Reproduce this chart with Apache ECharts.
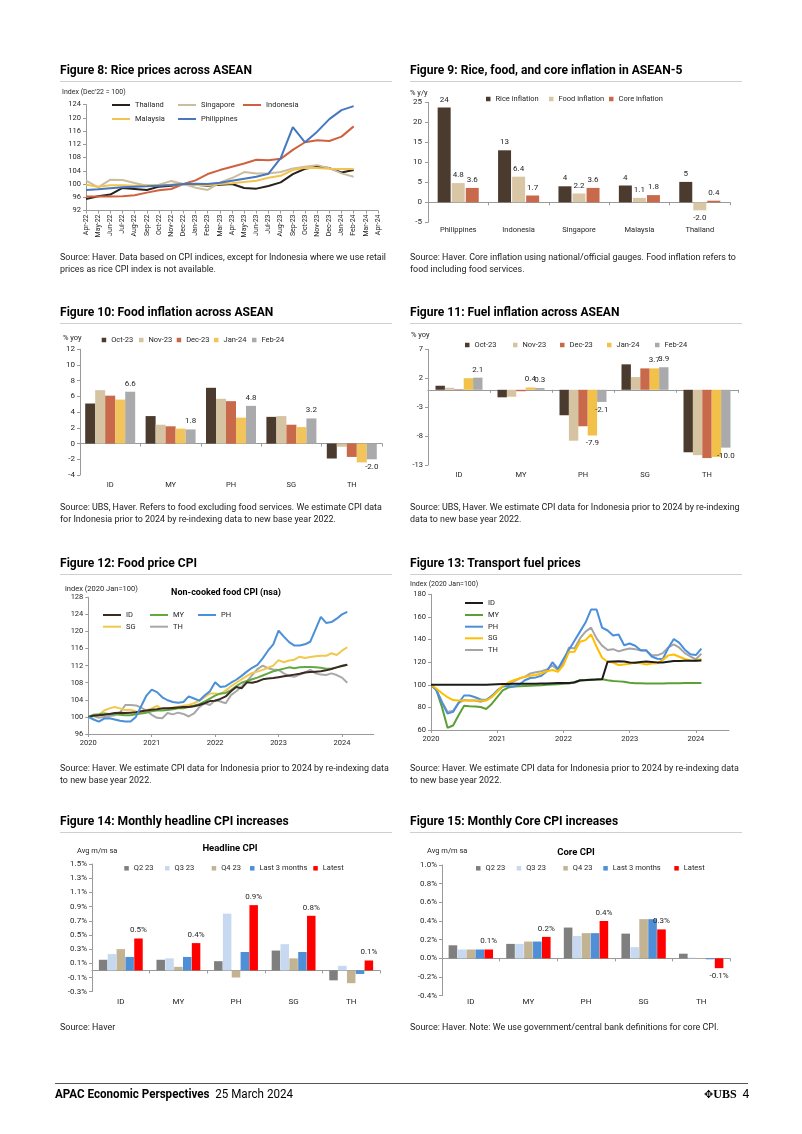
<!DOCTYPE html>
<html><head><meta charset="utf-8"><title>ASEAN inflation charts</title>
<script src="https://cdn.jsdelivr.net/npm/echarts@6.0.0/dist/echarts.min.js"></script>
<style>
html,body{margin:0;padding:0;background:#fff;}
#page{position:relative;width:802px;height:1134px;overflow:hidden;background:#fff;font-family:Roboto,"Liberation Sans",Arial,sans-serif;color:#111;}
#chart{position:absolute;left:0;top:0;width:802px;height:1134px;}
.t{position:absolute;white-space:nowrap;transform-origin:0 50%;}
.ttl{font-weight:700;font-size:12.5px;line-height:14px;color:#000;}
.src{font-size:8.8px;line-height:12.4px;color:#222;}
.rule{position:absolute;height:1px;background:#cfcfcf;}
.foot{font-size:12px;line-height:14px;color:#000;}
</style></head><body><div id="page">
<div id="chart"></div>

<div class="t ttl" id="refTitle" style="left:60px;top:63px">Figure 8: Rice prices across ASEAN</div>
<div class="t ttl" style="left:410px;top:63px">Figure 9: Rice, food, and core inflation in ASEAN-5</div>
<div class="rule" style="left:60px;top:81px;width:332px"></div>
<div class="rule" style="left:410px;top:81px;width:332px"></div>
<div class="t src" id="refSrc" style="left:60px;top:251px">Source: Haver. Data based on CPI indices, except for Indonesia where we use retail<br>prices as rice CPI index is not available.</div>
<div class="t src" style="left:410px;top:251px">Source: Haver. Core inflation using national/official gauges. Food inflation refers to<br>food including food services.</div>

<div class="t ttl" style="left:60px;top:305px">Figure 10: Food inflation across ASEAN</div>
<div class="t ttl" style="left:410px;top:305px">Figure 11: Fuel inflation across ASEAN</div>
<div class="rule" style="left:60px;top:323px;width:332px"></div>
<div class="rule" style="left:410px;top:323px;width:332px"></div>
<div class="t src" style="left:60px;top:501px">Source: UBS, Haver. Refers to food excluding food services. We estimate CPI data<br>for Indonesia prior to 2024 by re-indexing data to new base year 2022.</div>
<div class="t src" style="left:410px;top:501px">Source: UBS, Haver. We estimate CPI data for Indonesia prior to 2024 by re-indexing<br>data to new base year 2022.</div>

<div class="t ttl" style="left:60px;top:556px">Figure 12: Food price CPI</div>
<div class="t ttl" style="left:410px;top:556px">Figure 13: Transport fuel prices</div>
<div class="rule" style="left:60px;top:574px;width:332px"></div>
<div class="rule" style="left:410px;top:574px;width:332px"></div>
<div class="t src" style="left:60px;top:762px">Source: Haver. We estimate CPI data for Indonesia prior to 2024 by re-indexing data<br>to new base year 2022.</div>
<div class="t src" style="left:410px;top:762px">Source: Haver. We estimate CPI data for Indonesia prior to 2024 by re-indexing data<br>to new base year 2022.</div>

<div class="t ttl" style="left:60px;top:814px">Figure 14: Monthly headline CPI increases</div>
<div class="t ttl" style="left:410px;top:814px">Figure 15: Monthly Core CPI increases</div>
<div class="rule" style="left:60px;top:832px;width:332px"></div>
<div class="rule" style="left:410px;top:832px;width:332px"></div>
<div class="t src" style="left:60px;top:1021px">Source: Haver</div>
<div class="t src" style="left:410px;top:1021px">Source: Haver. Note: We use government/central bank definitions for core CPI.</div>

<div class="rule" style="left:55px;top:1083px;width:693px;background:#555"></div>
<div class="t foot" id="refFoot" style="left:55px;top:1087px"><b>APAC Economic Perspectives</b>&nbsp;&nbsp;25 March 2024</div>
<div class="t foot" style="left:704px;top:1087px"><span style="font-family:'DejaVu Sans';font-size:11px">✥</span><span style="font-family:'Liberation Serif';font-weight:700;font-size:12px">UBS</span>&nbsp;&nbsp;4</div>
</div>
<script>
// ---------- Figure 8: rice prices (Index Dec'22 = 100) ----------
const c8Months = ['Apr-22','May-22','Jun-22','Jul-22','Aug-22','Sep-22','Oct-22','Nov-22','Dec-22','Jan-23','Feb-23','Mar-23','Apr-23','May-23','Jun-23','Jul-23','Aug-23','Sep-23','Oct-23','Nov-23','Dec-23','Jan-24','Feb-24','Mar-24','Apr-24'];
const c8Thailand    = [95.5,96.3,96.8,98.8,98.5,98.2,99.2,99.5,100,99.8,99.5,99.8,100,98.8,98.6,99.4,100.5,103,104.6,105.2,104.8,103.5,104.2];
const c8Singapore   = [101,99,101.3,101.2,100.3,99.5,99.8,100.9,100,98.9,98.2,100.4,101.8,103.6,103.2,103.2,103.6,104.7,105.2,105.7,104.8,103.2,102.2];
const c8Indonesia   = [96.2,96.2,96.2,96.3,96.6,97.4,98.1,98.5,100,101.1,103,104.2,105.2,106.2,107.3,107.2,107.6,110.3,112.6,113.2,113,114.3,117.4];
const c8Malaysia    = [99.8,99.2,99.6,99.6,99.5,99.6,99.6,99.8,100,99.7,99.6,100,100.2,100.6,101,101.9,102.5,104.2,104.9,104.8,104.6,104.5,104.5];
const c8Philippines = [98.2,98.4,98.7,99,99.2,99.3,99.5,99.7,100,100.1,100,100.4,101,101.6,102.2,103.1,107.8,117.2,112.6,115.8,119.6,122.3,123.5];

// ---------- Figure 9: rice, food, core inflation (% y/y) ----------
const c9Countries = ['Philippines','Indonesia','Singapore','Malaysia','Thailand'];
const c9Rice = [23.7,13.0,4.0,4.2,5.1];
const c9Food = [4.8,6.4,2.2,1.1,-2.0];
const c9Core = [3.6,1.7,3.6,1.8,0.4];

// ---------- Figure 10: food inflation (% yoy) ----------
const c10Cats = ['ID','MY','PH','SG','TH'];
const c10Oct = [5.1,3.5,7.1,3.4,-1.9];
const c10Nov = [6.8,2.4,5.7,3.5,-0.4];
const c10Dec = [6.1,2.2,5.4,2.4,-1.7];
const c10Jan = [5.6,1.9,3.3,2.1,-2.4];
const c10Feb = [6.6,1.8,4.8,3.2,-2.0];

// ---------- Figure 11: fuel inflation (% yoy) ----------
const c11Cats = ['ID','MY','PH','SG','TH'];
const c11Oct = [0.7,-1.3,-4.4,4.4,-10.8];
const c11Nov = [0.35,-1.2,-8.8,2.2,-11.3];
const c11Dec = [0.1,-0.25,-6.3,3.7,-11.8];
const c11Jan = [2.0,0.4,-7.9,3.7,-11.6];
const c11Feb = [2.1,0.3,-2.1,3.9,-10.0];
const c11Ticks = [-13,-8,-3,2,7];

// ---------- Figure 12: non-cooked food CPI (2020 Jan = 100), Jan-2020 .. Feb-2024 ----------
const c12Years = ['2020','2021','2022','2023','2024'];
const c12ID = [100,100.3,100.4,100.5,100.7,100.9,101,100.9,101,101.1, 101.3,101.5,101.7,101.8,102,102,102.1,102.2,102.3,102.3, 102.5,102.8,103.2,103.7,103.8,104.2,104.8,106,107,106.7, 108.1,108,108.3,108.8,109,109.1,109.3,109.5,109.7,109.9, 110.1,110.4,110.5,110.6,110.7,110.9,111.2,111.6,111.9,112.2];
const c12MY = [100,100.5,100.6,100.8,100.7,100.6,100.5,100.4,100.4,100.6, 100.8,101,101.3,101.5,101.5,101.6,101.8,102,102,102.3, 102.6,103,103.6,104.3,105,105.5,105.6,106.3,107.2,108, 108.4,108.8,109.2,109.7,110.2,110.7,111,111.3,111.6,111.4, 111.6,111.7,111.7,111.6,111.5,111.3,111.3,111.6,112,112.2];
const c12PH = [100,99.4,98.9,99.6,99.7,99.4,99.1,98.9,98.9,100, 102.5,105,106.4,105.8,104.6,103.9,103.5,103.3,103.5,104.8, 104.3,103.8,105,106,108.1,107,107.2,108,108.7,109.6, 110.6,111.5,112.2,113.7,115.5,117,120.2,118.8,117.5,116.7, 116.7,117,117.6,120.5,123.4,122,122.2,123,124,124.6];
const c12SG = [100,100.2,100.5,101.5,102,102.3,102,101.6,101.7,101.3, 101,101.5,102,102.6,101.8,102,102.2,102.4,102.6,102.8, 103.2,103.8,104.6,105.5,105.5,105.3,106.2,107.2,108,108.8, 109.6,110.3,110.6,111,111.5,112,113.3,112.8,113.2,113.4, 114.1,113.8,114,114.2,114.3,114.3,114.9,114.5,115.5,116.3];
const c12TH = [100,100.2,99.8,100,100.2,100.4,101,102.8,102.8,102.7, 102.2,101.4,100.5,99.8,99.7,100.9,100.6,101,100.7,100.1, 100.8,102.3,103.2,102.8,103.9,103.6,103.2,105.1,106,107.1, 108.3,109.8,111.2,112,111.4,111.1,111,110.2,109.6,109.4, 109.9,110.4,111,110.2,109.9,109.8,110.2,109.8,109.2,108];

// ---------- Figure 13: transport fuel prices (2020 Jan = 100), Jan-2020 .. Feb-2024 ----------
const c13Years = ['2020','2021','2022','2023','2024'];
const c13ID = [100,100,100,100,100,100,100,100,100,100, 100,100.2,100.4,100.6,100.7,100.8,100.9,100.9,101,101, 101.1,101.2,101.4,101.5,101.5,101.6,102,104,104.2,104.5, 104.6,104.8,120.3,120.5,120.7,120.5,119.6,119.5,120.2,120.5, 120.2,119.8,119.6,120.3,121,121,121.2,121.2,121.3,121.5];
const c13MY = [100,95,80,62,64,73,81.5,81,80.8,80.3, 78.6,83,89,95,97.5,98.5,98.7,99,99.2,99.3, 99.6,100,100.3,100.5,100.8,101.2,102.5,103.5,104,104.5, 104.8,104.8,104,103.3,103,102.7,101.8,101.3,101.3,101.2, 101.2,101.2,101.2,101.3,101.3,101.4,101.5,101.5,101.5,101.5];
const c13PH = [100,95,84,74.5,76,84,90.5,90.5,89,87, 86.5,90,95,98.5,99,98.5,100,104,106,106.5, 108,112,120,114,122.8,131,139,147,155,166.5, 166.5,150.5,148,143.5,144.5,135,136.5,134.5,130.5,130.5, 125,123,122.8,132.5,140.5,137,131,127,126.3,132];
const c13SG = [100,96.5,92.5,89,86.5,86,86,86,86,86, 86,89,94,99,102,104,105.7,107,108,108.6, 110,112,113,111.5,117.4,129,129.2,138,139.5,144.5, 133.6,123.9,120.3,119.7,117.4,118,118.5,119.7,119,118, 118.8,119,122,126,126.8,124.8,122.8,121.5,121,122.8];
const c13TH = [100,95,85,76,77,84,86.5,86,86,85, 86.5,90,94,98.5,101,103,105.5,107,110,111, 112,113.5,117,113,120,133,132,141,147,150.5, 141,134.6,130.7,131.5,129.5,131,132,131.5,130.2,130, 126,126,128,133,135.8,132.8,128,125,122.5,127.5];

// ---------- Figure 14: headline CPI, avg m/m sa (%) ----------
const c14Cats = ['ID','MY','PH','SG','TH'];
const c14Q2 = [0.15,0.15,0.13,0.28,-0.14];
const c14Q3 = [0.23,0.17,0.80,0.37,0.065];
const c14Q4 = [0.30,0.05,-0.10,0.17,-0.18];
const c14L3M = [0.19,0.19,0.26,0.26,-0.05];
const c14Latest = [0.45,0.385,0.92,0.77,0.14];
const c14Ticks = [-0.3,-0.1,0.1,0.3,0.5,0.7,0.9,1.1,1.3,1.5];

// ---------- Figure 15: core CPI, avg m/m sa (%) ----------
const c15Cats = ['ID','MY','PH','SG','TH'];
const c15Q2 = [0.14,0.155,0.33,0.265,0.05];
const c15Q3 = [0.095,0.155,0.24,0.12,0.007];
const c15Q4 = [0.095,0.18,0.27,0.42,-0.007];
const c15L3M = [0.095,0.18,0.27,0.42,-0.01];
const c15Latest = [0.095,0.23,0.40,0.31,-0.105];
const c15Ticks = [-0.4,-0.2,0,0.2,0.4,0.6,0.8,1.0];

// month categories for the time-line charts (Jan-2020 .. Jul-2024 axis extent)
const monthCats = [];
for (let y = 2020; y <= 2024; y++) for (let m = 1; m <= 12; m++) { if (y === 2024 && m > 7) break; monthCats.push(y + '-' + String(m).padStart(2,'0')); }

const FONT = 'Roboto, "Liberation Sans", Arial, sans-serif';
const AXC = '#9a9a9a';
const TXT = '#262626';
const pct = v => (Math.round(v*10)/10).toFixed(1) + '%';

function vAxis(gi, o) {
  const a = {type:'value', gridIndex:gi, min:o.min, max:o.max,
    axisLine:{show:true, lineStyle:{color:AXC, width:1}},
    axisTick:{show:true, length:3, lineStyle:{color:AXC}},
    splitLine:{show:false},
    axisLabel:{fontSize:o.fs||7.5, color:TXT, fontFamily:FONT, margin:o.margin||5, formatter:o.fmt}};
  if (o.interval != null) a.interval = o.interval;
  if (o.ticks) { a.axisLabel.customValues = o.ticks; a.axisTick.customValues = o.ticks; }
  return a;
}
function cAxis(gi, data, o) {
  return {type:'category', gridIndex:gi, data, boundaryGap: o.bg !== false,
    axisLine:{show:true, onZero:true, lineStyle:{color:AXC, width:1}},
    axisTick:{show:true, length:3, lineStyle:{color:AXC}, interval:o.tickInt},
    splitLine:{show:false},
    axisLabel:{fontSize:o.fs||7.5, color:TXT, fontFamily:FONT, margin:o.margin, rotate:o.rotate||0, interval:o.labInt != null ? o.labInt : 0, formatter:o.fmt}};
}
function lineS(name, gi, data, color, w) {
  return {name, type:'line', xAxisIndex:gi, yAxisIndex:gi, data, symbol:'none', showSymbol:false,
    lineStyle:{width:w||2, color}, itemStyle:{color}, silent:true};
}
function barS(name, gi, data, color, w, gap, fmt, showIf) {
  return {name, type:'bar', xAxisIndex:gi, yAxisIndex:gi, barWidth:w, barGap:gap, itemStyle:{color}, silent:true,
    data: data.map((v,i) => ({value:v, label:{show: !!fmt && (!showIf || showIf(i)), position: v < 0 ? 'bottom' : 'top'}})),
    label:{show:false, fontSize:8, color:TXT, fontFamily:FONT, distance:4, formatter: p => fmt ? fmt(p.value) : ''}};
}
function leg(name, x, y, kind) {
  const line = kind === 'line';
  return {data:[name], left:x, top:y - 5, orient:'horizontal', padding:0, itemGap:0, selectedMode:false,
    icon:'rect', itemWidth: line ? 18 : 4.5, itemHeight: line ? 2 : 4.5,
    formatter: n => n.slice(n.indexOf(':') + 1),
    textStyle:{fontSize:7.5, color:TXT, fontFamily:FONT, lineHeight:10}};
}
function txt(s, x, y, o) {
  o = o || {};
  return {type:'text', x, y, silent:true, style:{text:s, align:o.align||'left', verticalAlign:'middle',
    font:(o.bold?'bold ':'') + (o.fs||7.5) + 'px ' + FONT, fill:o.color||TXT}};
}

const grids = [
  {left:86, top:104.5, width:292, height:106},
  {left:428, top:102.3, width:302, height:120},
  {left:80, top:349.3, width:302, height:125.7},
  {left:428, top:349.3, width:310, height:115.7},
  {left:88.3, top:597.3, width:285.4, height:136.7},
  {left:431, top:594.3, width:298, height:135.7},
  {left:92, top:864, width:288, height:127.7},
  {left:442, top:865, width:288, height:130.7}
];

const yearTick = (i) => i % 12 === 0;
const xAxes = [
  cAxis(0, c8Months, {bg:false, rotate:90, fs:7, margin:4}),
  cAxis(1, c9Countries, {margin:4}),
  cAxis(2, c10Cats, {margin:6}),
  cAxis(3, c11Cats, {margin:6.5}),
  cAxis(4, monthCats, {bg:false, margin:5, labInt:yearTick, tickInt:yearTick, fmt:(v,i) => c12Years[Math.floor(i/12)] || ''}),
  cAxis(5, monthCats, {bg:false, margin:5, labInt:yearTick, tickInt:yearTick, fmt:(v,i) => c13Years[Math.floor(i/12)] || ''}),
  cAxis(6, c14Cats, {margin:6, fs:8}),
  cAxis(7, c15Cats, {margin:2.5, fs:8})
];
const yAxes = [
  vAxis(0, {min:92, max:124, interval:4}),
  vAxis(1, {min:-5, max:25, interval:5, fs:8, margin:6}),
  vAxis(2, {min:-4, max:12, interval:2, fs:8}),
  vAxis(3, {min:-13, max:7, ticks:c11Ticks, fs:7.5}),
  vAxis(4, {min:96, max:128, interval:4}),
  vAxis(5, {min:60, max:180, interval:20}),
  vAxis(6, {min:-0.3, max:1.5, ticks:c14Ticks, fs:8, fmt:pct}),
  vAxis(7, {min:-0.4, max:1.0, ticks:c15Ticks, fs:8, fmt:pct})
];

const f1 = v => v.toFixed(1);
const f0 = v => v.toFixed(0);
const series = [
  lineS('c8:Thailand', 0, c8Thailand, '#2a211d'),
  lineS('c8:Singapore', 0, c8Singapore, '#cbbd9f'),
  lineS('c8:Indonesia', 0, c8Indonesia, '#cf6140'),
  lineS('c8:Malaysia', 0, c8Malaysia, '#f2c44f'),
  lineS('c8:Philippines', 0, c8Philippines, '#4677c0'),

  barS('c9:Rice inflation', 1, c9Rice, '#4b3a2e', 13, '8%', f0),
  barS('c9:Food inflation', 1, c9Food, '#d8c6a4', 13, '8%', f1),
  barS('c9:Core inflation', 1, c9Core, '#c9694c', 13, '8%', f1),

  barS('c10:Oct-23', 2, c10Oct, '#4b3a2e', 10, '0%'),
  barS('c10:Nov-23', 2, c10Nov, '#d6c3a2', 10, '0%'),
  barS('c10:Dec-23', 2, c10Dec, '#c9694c', 10, '0%'),
  barS('c10:Jan-24', 2, c10Jan, '#f1c45c', 10, '0%'),
  barS('c10:Feb-24', 2, c10Feb, '#aaaaad', 10, '0%', f1),

  barS('c11:Oct-23', 3, c11Oct, '#4b3a2e', 9.4, '0%'),
  barS('c11:Nov-23', 3, c11Nov, '#d6c3a2', 9.4, '0%'),
  barS('c11:Dec-23', 3, c11Dec, '#c9694c', 9.4, '0%'),
  barS('c11:Jan-24', 3, c11Jan, '#f1c14a', 9.4, '0%', f1, i => i >= 1 && i <= 3),
  barS('c11:Feb-24', 3, c11Feb, '#aaaaad', 9.4, '0%', f1),

  lineS('c12:TH', 4, c12TH, '#a8a8a8'),
  lineS('c12:SG', 4, c12SG, '#f1c84e'),
  lineS('c12:MY', 4, c12MY, '#64a843'),
  lineS('c12:ID', 4, c12ID, '#3a2a22'),
  lineS('c12:PH', 4, c12PH, '#4a8fd8'),

  lineS('c13:MY', 5, c13MY, '#5e9f35'),
  lineS('c13:TH', 5, c13TH, '#a5a5a5'),
  lineS('c13:PH', 5, c13PH, '#4a8fdb'),
  lineS('c13:SG', 5, c13SG, '#ffbf00'),
  lineS('c13:ID', 5, c13ID, '#1c1c1c'),

  barS('c14:Q2 23', 6, c14Q2, '#7f7f7f', 8.5, '4%'),
  barS('c14:Q3 23', 6, c14Q3, '#c6d9f0', 8.5, '4%'),
  barS('c14:Q4 23', 6, c14Q4, '#c2b393', 8.5, '4%'),
  barS('c14:Last 3 months', 6, c14L3M, '#4f8fd5', 8.5, '4%'),
  barS('c14:Latest', 6, c14Latest, '#ff0000', 8.5, '4%', pct),

  barS('c15:Q2 23', 7, c15Q2, '#7f7f7f', 8.6, '4%'),
  barS('c15:Q3 23', 7, c15Q3, '#c6d9f0', 8.6, '4%'),
  barS('c15:Q4 23', 7, c15Q4, '#c2b393', 8.6, '4%'),
  barS('c15:Last 3 months', 7, c15L3M, '#4f8fd5', 8.6, '4%'),
  barS('c15:Latest', 7, c15Latest, '#ff0000', 8.6, '4%', pct)
];

const legends = [
  leg('c8:Thailand', 112, 105, 'line'), leg('c8:Singapore', 178, 105, 'line'), leg('c8:Indonesia', 243, 105, 'line'),
  leg('c8:Malaysia', 112, 119, 'line'), leg('c8:Philippines', 178, 119, 'line'),
  leg('c9:Rice inflation', 486, 99), leg('c9:Food inflation', 549, 99), leg('c9:Core inflation', 609, 99),
  leg('c10:Oct-23', 101.7, 340), leg('c10:Nov-23', 139, 340), leg('c10:Dec-23', 176.7, 340), leg('c10:Jan-24', 214, 340), leg('c10:Feb-24', 252, 340),
  leg('c11:Oct-23', 465, 345), leg('c11:Nov-23', 513, 345), leg('c11:Dec-23', 560, 345), leg('c11:Jan-24', 607, 345), leg('c11:Feb-24', 655, 345),
  leg('c12:ID', 103, 615, 'line'), leg('c12:MY', 150, 615, 'line'), leg('c12:PH', 198, 615, 'line'),
  leg('c12:SG', 103, 626.7, 'line'), leg('c12:TH', 150, 626.7, 'line'),
  leg('c13:ID', 465, 603, 'line'), leg('c13:MY', 465, 615, 'line'), leg('c13:PH', 465, 626.7, 'line'), leg('c13:SG', 465, 638.3, 'line'), leg('c13:TH', 465, 650, 'line'),
  leg('c14:Q2 23', 124.3, 868.3), leg('c14:Q3 23', 165, 868.3), leg('c14:Q4 23', 211.7, 868.3), leg('c14:Last 3 months', 250, 868.3), leg('c14:Latest', 313.3, 868.3),
  leg('c15:Q2 23', 476, 868.3), leg('c15:Q3 23', 516.7, 868.3), leg('c15:Q4 23', 563.3, 868.3), leg('c15:Last 3 months', 603.3, 868.3), leg('c15:Latest', 674.3, 868.3)
];

const graphics = [
  txt("Index (Dec'22 = 100)", 62, 92, {fs:7}),
  txt('% y/y', 410, 93, {fs:7.5}),
  txt('% yoy', 63, 338, {fs:7.5}),
  txt('% yoy', 411, 335, {fs:7.5}),
  txt('index (2020 Jan=100)', 65, 589, {fs:7.5}),
  txt('Non-cooked food CPI (nsa)', 226, 593, {fs:9, bold:true, align:'center', color:'#000'}),
  txt('Index (2020 Jan=100)', 410, 584, {fs:7}),
  txt('Avg m/m sa', 77, 851, {fs:7.5}),
  txt('Headline CPI', 230, 849, {fs:9.5, bold:true, align:'center', color:'#000'}),
  txt('Avg m/m sa', 427, 851, {fs:7.5}),
  txt('Core CPI', 576, 853, {fs:9.5, bold:true, align:'center', color:'#000'})
];

const chart = echarts.init(document.getElementById('chart'), null, {renderer:'canvas'});
chart.setOption({
  animation:false,
  textStyle:{fontFamily:FONT},
  grid:grids, xAxis:xAxes, yAxis:yAxes, series, legend:legends, graphic:graphics
});

function fitText() {
  const ttl = document.getElementById('refTitle').getBoundingClientRect().width;
  const sT = 192 / ttl;
  document.querySelectorAll('.ttl').forEach(e => e.style.transform = 'scaleX(' + sT + ')');
  const src = document.getElementById('refSrc').getBoundingClientRect().width;
  const sS = 326 / src;
  document.querySelectorAll('.src').forEach(e => e.style.transform = 'scaleX(' + sS + ')');
  const ft = document.getElementById('refFoot').getBoundingClientRect().width;
  document.getElementById('refFoot').style.transform = 'scaleX(' + (238 / ft) + ')';
}
fitText();
</script>
</body></html>
